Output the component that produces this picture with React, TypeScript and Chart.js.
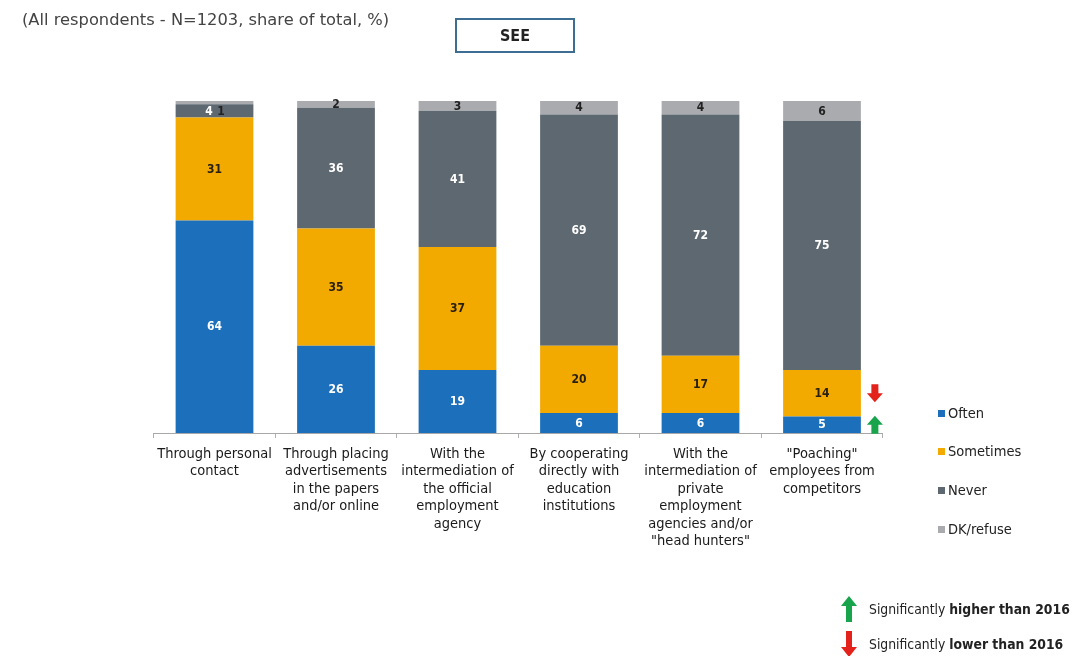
import React, { useEffect, useRef } from "react";
import { Chart, registerables } from "chart.js";

Chart.register(...registerables);

const categories: string[][] = [
  ["Through personal", "contact"],
  ["Through placing", "advertisements", "in the papers", "and/or online"],
  ["With the", "intermediation of", "the official", "employment", "agency"],
  ["By cooperating", "directly with", "education", "institutions"],
  ["With the", "intermediation of", "private", "employment", "agencies and/or", "\"head hunters\""],
  ["\"Poaching\"", "employees from", "competitors"],
];

const often = [64, 26, 19, 6, 6, 5];
const sometimes = [31, 35, 37, 20, 17, 14];
const never = [4, 36, 41, 69, 72, 75];
const dkRefuse = [1, 2, 3, 4, 4, 6];

// significance vs 2016: "up" = higher, "down" = lower
const oftenChange = ["", "", "", "", "", "up"];
const sometimesChange = ["", "", "", "", "", "down"];

const seriesNames = ["Often", "Sometimes", "Never", "DK/refuse"];
const seriesColors = ["#1b6fbb", "#f2a900", "#5e6870", "#a9abae"];
const labelColors = ["#ffffff", "#2a2010", "#ffffff", "#222222"];

const FONT = "'DejaVu Sans Condensed', 'DejaVu Sans', sans-serif";
const TITLE_FONT = "'DejaVu Sans', sans-serif";
const GREEN = "#17a44a";
const RED = "#e3231b";

function drawArrow(ctx: CanvasRenderingContext2D, cx: number, cy: number, dir: string, color: string) {
  const w = 16, h = 18, shaft = 7, head = 9;
  ctx.save();
  ctx.fillStyle = color;
  ctx.beginPath();
  const top = cy - h / 2, bot = cy + h / 2;
  if (dir === "up") {
    ctx.moveTo(cx, top);
    ctx.lineTo(cx + w / 2, top + head);
    ctx.lineTo(cx + shaft / 2, top + head);
    ctx.lineTo(cx + shaft / 2, bot);
    ctx.lineTo(cx - shaft / 2, bot);
    ctx.lineTo(cx - shaft / 2, top + head);
    ctx.lineTo(cx - w / 2, top + head);
  } else {
    ctx.moveTo(cx, bot);
    ctx.lineTo(cx + w / 2, bot - head);
    ctx.lineTo(cx + shaft / 2, bot - head);
    ctx.lineTo(cx + shaft / 2, top);
    ctx.lineTo(cx - shaft / 2, top);
    ctx.lineTo(cx - shaft / 2, bot - head);
    ctx.lineTo(cx - w / 2, bot - head);
  }
  ctx.closePath();
  ctx.fill();
  ctx.restore();
}

const valueLabelPlugin = {
  id: "valueLabels",
  afterDatasetsDraw(chart: any) {
    const ctx = chart.ctx;
    ctx.save();
    ctx.font = `bold 12px ${FONT}`;
    ctx.textAlign = "center";
    ctx.textBaseline = "middle";
    const n = chart.data.labels.length;
    for (let i = 0; i < n; i++) {
      const pos: { x: number; y: number; v: number; ds: number }[] = [];
      chart.data.datasets.forEach((ds: any, d: number) => {
        const el = chart.getDatasetMeta(d).data[i];
        if (!el) return;
        const v = ds.raw[i];
        pos.push({ x: el.x, y: (el.y + el.base) / 2, v, ds: d });
      });
      for (let k = 0; k < pos.length; k++) {
        if (pos[k].v < 2 && k > 0) {
          pos[k].y = pos[k - 1].y;
          pos[k].x = pos[k - 1].x + 6.5;
          pos[k - 1].x = pos[k - 1].x - 5.5;
        }
      }
      pos.forEach((p) => {
        ctx.fillStyle = labelColors[p.ds];
        ctx.fillText(String(p.v), p.x, p.y + 0.5);
      });
    }
    const changes = [oftenChange, sometimesChange];
    changes.forEach((arr, d) => {
      const meta = chart.getDatasetMeta(d);
      arr.forEach((c, i) => {
        if (!c) return;
        const el = meta.data[i];
        const cx = el.x + el.width / 2 + 14;
        const cy = (el.y + el.base) / 2;
        drawArrow(ctx, cx, cy, c, c === "up" ? GREEN : RED);
      });
    });
    ctx.restore();
  },
};

function ArrowIcon({ dir, color }: { dir: string; color: string }) {
  const pts =
    dir === "up"
      ? "8,0 16,10 11,10 11,26 5,26 5,10 0,10"
      : "5,0 11,0 11,16 16,16 8,26 0,16 5,16";
  return (
    <svg width="16" height="26" style={{ display: "block" }}>
      <polygon points={pts} fill={color} />
    </svg>
  );
}

export default function App() {
  const ref = useRef<HTMLCanvasElement | null>(null);

  useEffect(() => {
    document.body.style.margin = "0";
    if (!ref.current) return;
    const data = [often, sometimes, never, dkRefuse];
    const totals = categories.map((_, i) => data.reduce((s, arr) => s + arr[i], 0));
    const chart = new Chart(ref.current, {
      type: "bar",
      data: {
        labels: categories,
        datasets: data.map((d, k) => ({
          label: seriesNames[k],
          data: d.map((v, i) => (v / totals[i]) * 100),
          raw: d,
          backgroundColor: seriesColors[k],
          borderWidth: 0,
          barPercentage: 0.64,
          categoryPercentage: 1.0,
        })),
      },
      options: {
        animation: false,
        responsive: false,
        maintainAspectRatio: false,
        layout: { padding: { left: 153.75, right: 191.25, top: 101, bottom: 0 } },
        plugins: { legend: { display: false }, tooltip: { enabled: false }, title: { display: false } },
        scales: {
          x: {
            stacked: true,
            offset: true,
            afterFit: (scale: any) => {
              scale.height = 223;
            },
            grid: {
              display: true,
              drawOnChartArea: false,
              drawTicks: true,
              tickLength: 5,
              color: "#b0b0b0",
              offset: true,
            },
            border: { display: true, color: "#a8a8a8", width: 1 },
            ticks: {
              color: "#1a1a1a",
              font: { family: FONT, size: 14.5, lineHeight: 1.21 },
              padding: 7,
              maxRotation: 0,
              autoSkip: false,
            },
          },
          y: { stacked: true, display: false, min: 0, max: 100 },
        },
      },
      plugins: [valueLabelPlugin],
    } as any);
    return () => chart.destroy();
  }, []);

  const legendY = [413, 451, 490, 529];

  return (
    <div style={{ position: "relative", width: 1074, height: 656, background: "#fff", overflow: "hidden", fontFamily: FONT }}>
      <canvas ref={ref} width={1074} height={656} style={{ position: "absolute", left: 0, top: 0, width: 1074, height: 656 }} />
      <div style={{ position: "absolute", left: 22, top: 10, fontSize: 16.3, color: "#444", whiteSpace: "nowrap", fontFamily: TITLE_FONT }}>
        (All respondents - N=1203, share of total, %)
      </div>
      <div
        style={{
          position: "absolute",
          left: 455,
          top: 18,
          width: 116,
          height: 31,
          border: "2px solid #3d6d93",
          display: "flex",
          alignItems: "center",
          justifyContent: "center",
          fontWeight: "bold",
          fontSize: 16,
          color: "#222",
        }}
      >
        SEE
      </div>
      {seriesNames.map((name, k) => (
        <div
          key={name}
          style={{
            position: "absolute",
            left: 938,
            top: legendY[k] - 9,
            height: 18,
            display: "flex",
            alignItems: "center",
            fontSize: 14.5,
            color: "#222",
            whiteSpace: "nowrap",
          }}
        >
          <span style={{ display: "inline-block", width: 7, height: 7, background: seriesColors[k], marginRight: 3 }} />
          {name}
        </div>
      ))}
      <div style={{ position: "absolute", left: 841, top: 596, display: "flex", alignItems: "center", fontSize: 13.8, color: "#222", whiteSpace: "nowrap" }}>
        <ArrowIcon dir="up" color={GREEN} />
        <span style={{ marginLeft: 12 }}>
          Significantly <b>higher than 2016</b>
        </span>
      </div>
      <div style={{ position: "absolute", left: 841, top: 631, display: "flex", alignItems: "center", fontSize: 13.8, color: "#222", whiteSpace: "nowrap" }}>
        <ArrowIcon dir="down" color={RED} />
        <span style={{ marginLeft: 12 }}>
          Significantly <b>lower than 2016</b>
        </span>
      </div>
    </div>
  );
}
